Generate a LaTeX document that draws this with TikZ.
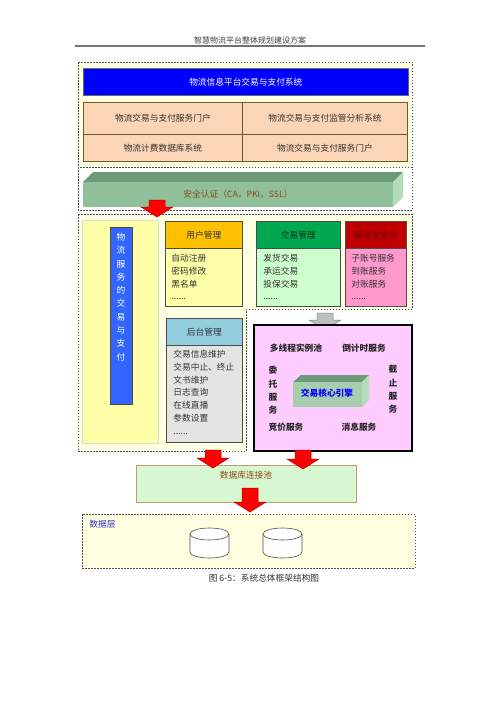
\documentclass[tikz,border=0pt]{standalone}
\usepackage{fontspec}
\setmainfont{Noto Sans CJK SC}
\usetikzlibrary{positioning}
\tikzset{>=stealth}
\definecolor{paleyellow}{HTML}{FFFFE2}
\definecolor{lemon}{HTML}{FFFFA8}
\definecolor{peach}{HTML}{FBD5B5}
\definecolor{olivebrown}{HTML}{6B5B2B}
\definecolor{pureblue}{HTML}{0000FF}
\definecolor{royal}{HTML}{3366FF}
\definecolor{sage}{HTML}{8FC09A}
\definecolor{sagedark}{HTML}{6A9A78}
\definecolor{sagelight}{HTML}{B2DDB8}
\definecolor{amber}{HTML}{FFC000}
\definecolor{leaf}{HTML}{00A850}
\definecolor{mint}{HTML}{CCFFCC}
\definecolor{crimson}{HTML}{C00000}
\definecolor{rose}{HTML}{FF99CC}
\definecolor{lilac}{HTML}{FFCCFF}
\definecolor{skyblue}{HTML}{92CDDC}
\definecolor{ash}{HTML}{E4E4E4}
\definecolor{rust}{HTML}{8B4A1B}
\definecolor{poolgreen}{HTML}{D6F7D0}
\definecolor{tan}{HTML}{C09A70}
\definecolor{labelblue}{HTML}{3333CC}
\definecolor{redarrow}{HTML}{FF0000}
\definecolor{arrowgray}{HTML}{BFBFBF}
\newcommand\txt{\fontsize{8.7}{12.8}\selectfont}
\newcommand\headtxt{\fontsize{8}{10}\selectfont}
\newcommand\vtxt{\fontsize{8.7}{13.3}\selectfont}
\newcommand\fatarrow[4][redarrow]{% x, top, tip
  \filldraw[fill=#1, draw=#1!70!black, line width=0.5pt] (#2-8,#3) -- (#2+8,#3) -- (#2+8,#4-10)
    -- (#2+16,#4-10) -- (#2,#4) -- (#2-16,#4-10) -- (#2-8,#4-10) -- cycle;}
\tikzset{
  dashbox/.style={draw=black!70, dash pattern=on 1.5pt off 1.5pt, line width=0.6pt},
  cell/.style={draw=olivebrown, fill=peach, line width=0.8pt, anchor=north west, inner sep=0pt, font=\txt, text=black!80},
  modhead/.style={draw=black!70, line width=0.7pt, minimum width=#1, minimum height=27pt, anchor=north west, inner sep=0pt, font=\txt},
  modbody/.style={draw=black!70, line width=0.7pt},
  items/.style={anchor=north west, align=left, inner sep=0pt, font=\txt, text=black!80},
  srv/.style={font=\txt\bfseries, text=black!85, inner sep=0pt},
}
\begin{document}
\begin{tikzpicture}[x=1pt,y=-1pt,thick]
  \useasboundingbox[fill=white] (0,0) rectangle (500,707);
  % page header
  \node[font=\headtxt, text=black!75] (title) at (250,40) {智慧物流平台整体规划建设方案};
  \draw[black!55, line width=1.2pt] (75,46) -- (425,46);
  % platform layer
  \draw[dashbox, fill=paleyellow] (78,62) rectangle (412,167);
  \node[fill=pureblue, draw=black!60, line width=0.6pt, minimum width=325pt, minimum height=27pt,
        anchor=north west, inner sep=0pt, font=\txt, text=white] (platform) at (83,68) {物流信息平台交易与支付系统};
  \node[cell, minimum width=159pt, minimum height=32pt] (portalA) at (83,102) {物流交易与支付服务门户};
  \node[cell, minimum width=165pt, minimum height=32pt] (monitor) at (242,102) {物流交易与支付监管分析系统};
  \node[cell, minimum width=159pt, minimum height=27pt] (billing) at (83,134) {物流计费数据库系统};
  \node[cell, minimum width=165pt, minimum height=27pt] (portalB) at (242,134) {物流交易与支付服务门户};
  % security layer
  \draw[dashbox, fill=white] (78,167) rectangle (412,210);
  \fill[sagedark] (83,182) -- (93,172) -- (403,172) -- (393,182) -- cycle;
  \fill[sagelight] (393,182) -- (403,172) -- (403,197) -- (393,207) -- cycle;
  \fill[sage] (83,182) rectangle (393,207);
  \node[font=\txt, text=rust] (security) at (238,194) {安全认证（CA，PKI，SSL）};
  % business layer
  \draw[dashbox, fill=paleyellow] (78,214) -- (412,214) -- (412,309) -- (246,309) -- (246,451) -- (78,451) -- cycle;
  \draw[black!15, fill=lemon, thin] (82,220) rectangle (158,443);
  \node[fill=royal, draw=black!70, line width=0.6pt, minimum width=22pt, minimum height=177pt,
        anchor=north west, inner sep=0pt] (servbar) at (110,227) {};
  \node[anchor=north, align=center, font=\vtxt, text=white, inner sep=0pt] (servtext) at (121,232.7)
        {物\\流\\服\\务\\的\\交\\易\\与\\支\\付};
  \fatarrow{157}{200}{217}
  % modules
  \node[modhead=77pt, fill=amber, text=black!80] (userhead) at (165,221) {用户管理};
  \draw[modbody, fill=lemon] (userhead.south west) rectangle (242,306);
  \node[items] (useritems) at (171,253.7) {自动注册\\密码修改\\黑名单\\......};
  \node[modhead=84pt, fill=leaf, text=black!70!leaf] (tradehead) at (256,221) {交易管理};
  \draw[modbody, fill=mint] (tradehead.south west) rectangle (340,306);
  \node[items] (tradeitems) at (263,253.7) {发货交易\\承运交易\\投保交易\\......};
  \node[modhead=61pt, fill=crimson, text=black!45!crimson] (deposithead) at (345,221) {保证金支付};
  \draw[modbody, fill=rose] (deposithead.south west) rectangle (406,306);
  \node[items] (deposititems) at (351,253.7) {子账号服务\\到账服务\\对账服务\\......};
  \node[modhead=76pt, fill=skyblue, text=black!80] (backhead) at (166,318) {后台管理};
  \draw[modbody, fill=ash] (backhead.south west) rectangle (242,442);
  \node[items] (backitems) at (173,349.7) {交易信息维护\\交易中止、终止\\文书维护\\日志查询\\在线直播\\参数设置\\......};
  % core engine
  \fatarrow[arrowgray]{325}{313}{330}
  \draw[black, line width=1.6pt, fill=lilac] (254,325) rectangle (412,451);
  \fill[sagedark] (293,382) -- (301,375) -- (369,375) -- (362,382) -- cycle;
  \fill[sagelight] (362,382) -- (369,375) -- (369,400) -- (362,407) -- cycle;
  \fill[sage!80!white] (293,382) rectangle (362,407);
  \node[srv, text=pureblue] (engine) at (327,393) {交易核心引擎};
  \node[srv] (pool) at (296,348) {多线程实例池};
  \node[srv] (timer) at (364,348) {倒计时服务};
  \node[srv, align=center, anchor=north, font=\vtxt\bfseries] (entrust) at (273,366) {委\\托\\服\\务};
  \node[srv, align=center, anchor=north, font=\vtxt\bfseries] (deadline) at (393,365) {截\\止\\服\\务};
  \node[srv] (bidding) at (286,427) {竞价服务};
  \node[srv] (message) at (359,427) {消息服务};
  % connection pool
  \draw[tan, line width=0.8pt, fill=poolgreen] (136,465) rectangle (356,502);
  \node[font=\txt, text=rust] (pooltext) at (246,475) {数据库连接池};
  \fatarrow{213}{450}{468}
  \fatarrow{303}{450}{469}
  % data layer
  \draw[dashbox, fill=paleyellow] (82,514) rectangle (415,568);
  \fatarrow{250}{488}{512}
  \node[font=\txt, text=labelblue, anchor=west, inner sep=0pt] (datalabel) at (89,524) {数据层};
  \foreach \cx in {209.5,282.5} {
    \draw[black!70, fill=white, line width=0.6pt] (\cx-19.5,534) -- (\cx-19.5,552)
      arc[start angle=180, end angle=0, x radius=19.5, y radius=6] -- (\cx+19.5,534);
    \draw[black!70, fill=white, line width=0.6pt] (\cx,534) ellipse[x radius=19.5, y radius=6];
  }
  \node[font=\txt, text=black!80] (caption) at (264,578) {图 6-5：系统总体框架结构图};
\end{tikzpicture}
\end{document}
